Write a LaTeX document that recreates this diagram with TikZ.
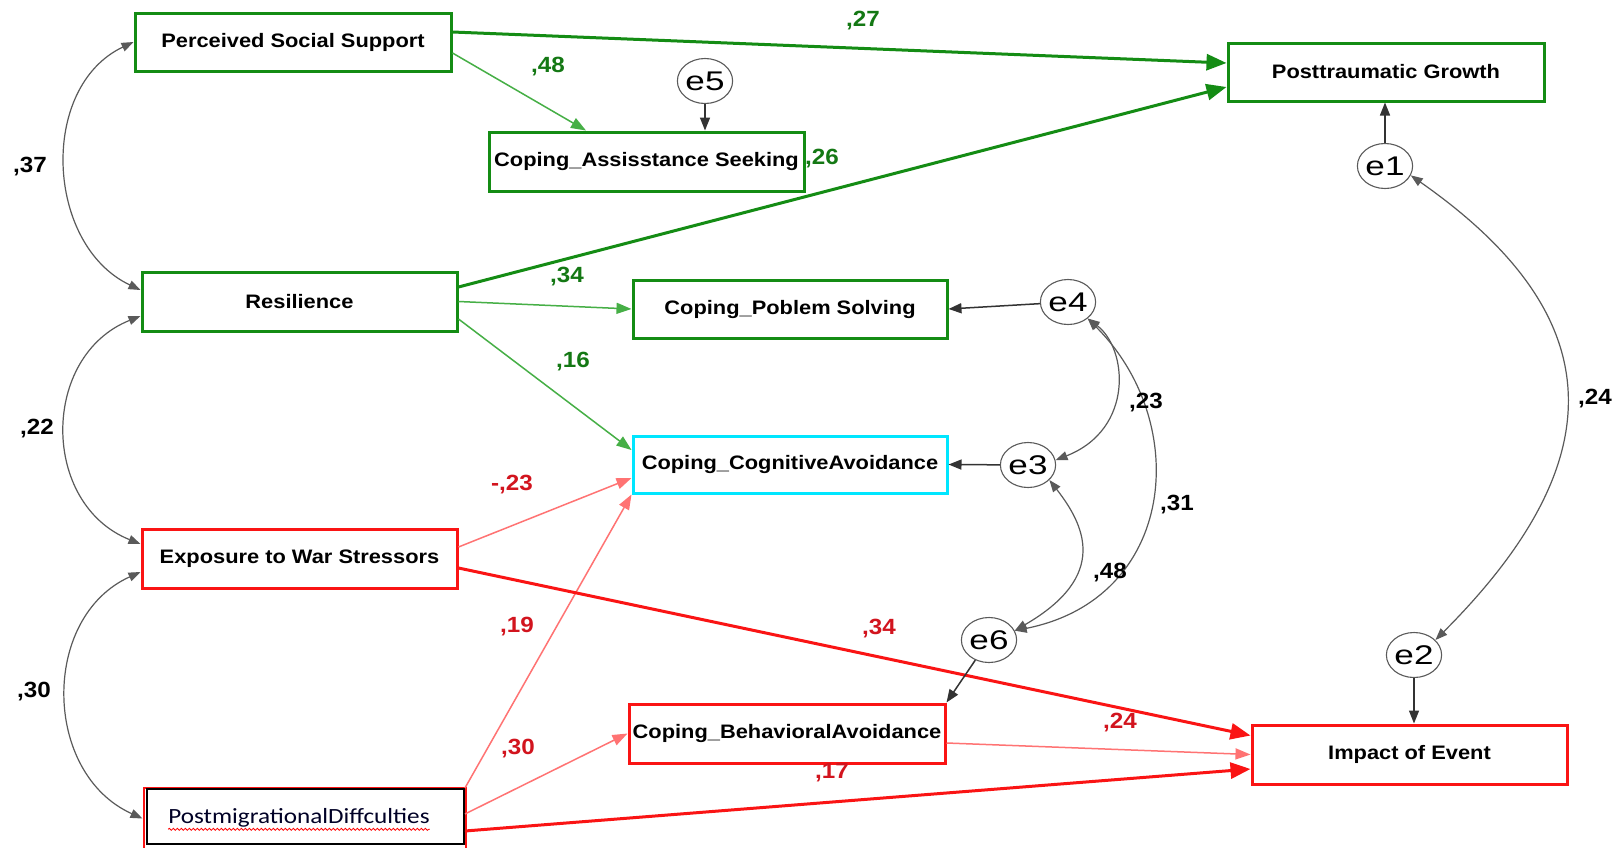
\documentclass[tikz,border=0pt]{standalone}
\usepackage{fontspec}
\usetikzlibrary{arrows.meta,shapes.geometric,decorations.pathmorphing,calc}
\newfontfamily\boxfont[FakeStretch=1.12]{Liberation Sans}
\newfontfamily\numfont[FakeStretch=1.1]{Liberation Sans}
\newfontfamily\efont[FakeStretch=1.3]{Liberation Sans}
\newfontfamily\calfont[FakeStretch=1.16]{Carlito}
\definecolor{pgreen}{RGB}{20,140,20}
\definecolor{pgreenl}{RGB}{70,175,70}
\definecolor{pgreent}{RGB}{20,120,20}
\definecolor{pred}{RGB}{250,20,20}
\definecolor{predl}{RGB}{255,115,115}
\definecolor{predt}{RGB}{210,20,30}
\definecolor{pcyan}{RGB}{0,230,255}
\definecolor{pgray}{RGB}{90,90,90}
\tikzset{
  gbox/.style={rectangle, draw=pgreen, line width=3pt, minimum width=316pt, minimum height=58pt, inner sep=0pt,
    font=\boxfont\bfseries\fontsize{19.5}{20}\selectfont},
  rbox/.style={gbox, draw=pred},
  cbox/.style={gbox, draw=pcyan},
  errc/.style={ellipse, draw=pgray, line width=1.1pt, minimum width=42pt, minimum height=45pt, inner sep=0pt,
    font=\efont\fontsize{27}{27}\selectfont},
  gthick/.style={draw=pgreen, line width=3pt, -{Triangle[length=20pt,width=16pt]}},
  gthin/.style={draw=pgreenl, line width=1.5pt, -{Triangle[length=15pt,width=11pt]}},
  rthick/.style={draw=pred, line width=3pt, -{Triangle[length=20pt,width=16pt]}},
  rthin/.style={draw=predl, line width=1.5pt, -{Triangle[length=15pt,width=11pt]}},
  blk/.style={draw=black!80, line width=1.5pt, -{Triangle[length=13pt,width=10pt]}},
  cov/.style={draw=pgray, line width=1.2pt, {Triangle[length=12pt,width=9pt]}-{Triangle[length=12pt,width=9pt]}},
  num/.style={font=\numfont\bfseries\fontsize{22}{22}\selectfont, inner sep=0pt},
}
\begin{document}
\begin{tikzpicture}[x=1pt,y=-1pt]
\useasboundingbox (0,0) rectangle (1623,847);
\fill[white] (0,0) rectangle (1623,847);

% boxes
\node[gbox] (pss) at (293,42) {Perceived Social Support};
\node[gbox] (ptg) at (1386,72) {Posttraumatic Growth};
\node[gbox, minimum width=315pt, minimum height=59pt] (asst) at (646.5,161.5) {Coping\_Assisstance Seeking};
\node[gbox, minimum width=315pt, minimum height=59pt] (res) at (299.5,301.5) {Resilience};
\node[gbox, minimum width=314pt] (pob) at (790,309) {Coping\_Poblem Solving};
\node[cbox, minimum width=314pt, minimum height=57pt] (cog) at (790,464.5) {Coping\_CognitiveAvoidance};
\node[rbox, minimum width=315pt, minimum height=59pt] (exp) at (299.5,558.5) {Exposure to War Stressors};
\node[rbox, minimum width=316pt, minimum height=59pt] (beh) at (787,733.5) {Coping\_BehavioralAvoidance};
\node[rbox, minimum width=315pt, minimum height=59pt] (imp) at (1409.5,754.5) {Impact of Event};
\node[rectangle, draw=pred, line width=2pt, minimum width=322pt, minimum height=61pt, inner sep=0pt] (pmred) at (304.5,818.5) {};
\node[rectangle, draw=black, fill=white, line width=1.8pt, minimum width=317pt, minimum height=55pt, inner sep=0pt] (pm) at (305.5,816.5) {};
\node[anchor=base, inner sep=0pt, font=\calfont\fontsize{21.7}{22}\selectfont, text=black!85!blue] (pmtext) at (299,823.3) {PostmigrationalDiffculties};
\draw[red, line width=0.8pt, decorate, decoration={snake, amplitude=1pt, segment length=4pt}]
  ([yshift=-6pt]pmtext.base west) -- ([yshift=-6pt]pmtext.base east);

% error terms
\node[errc] (e5) at (705,81) {e5};
\node[errc] (e1) at (1385,166) {e1};
\node[errc] (e4) at (1068,302) {e4};
\node[errc] (e3) at (1028,465) {e3};
\node[errc] (e6) at (989,640) {e6};
\node[errc] (e2) at (1414,655) {e2};

% paths
\draw[gthick] ([yshift=10pt]pss.east) -- ([yshift=9pt]ptg.west);
\draw[gthick] ([yshift=14.5pt]res.east) -- ([yshift=-15pt]ptg.west);
\draw[gthin] ([yshift=-11pt]pss.east) -- ([xshift=-60.5pt]asst.north);
\draw[gthin] (res.east) -- (pob.west);
\draw[gthin] ([yshift=-17.5pt]res.east) -- ([yshift=14.5pt]cog.west);
\draw[rthin] ([yshift=11.5pt]exp.east) -- ([yshift=-13.5pt]cog.west);
\draw[rthin] (pm.north east) -- (cog.south west);
\draw[rthin] ([yshift=2.5pt]pm.east) -- (beh.west);
\draw[rthick] ([yshift=-14.5pt]pm.east) -- ([yshift=-14.5pt]imp.west);
\draw[rthick] ([yshift=-9.5pt]exp.east) -- ([yshift=19pt]imp.west);
\draw[rthin] ([yshift=-9.5pt]beh.east) -- (imp.west);

% error arrows
\draw[blk] (e5) -- (e5 |- asst.north);
\draw[blk] (e1) -- (e1 |- ptg.south);
\draw[blk] (e4) -- (pob.east);
\draw[blk] (e3) -- (cog.east);
\draw[blk] (e6) -- (beh.north east);
\draw[blk] (e2) -- (e2 |- imp.north);

% covariances
\draw[cov] (pss.west) .. controls +(-95,45) and +(-95,-45) .. ([yshift=11.5pt]res.west);
\draw[cov] ([yshift=-14.5pt]res.west) .. controls +(-100,40) and +(-100,-40) .. ([yshift=14.5pt]exp.west);
\draw[cov] ([yshift=-13.5pt]exp.west) .. controls +(-100,45) and +(-100,-45) .. (pmred.west);
\draw[cov] (e4.-40) .. controls +(40,30) and +(79,-31) .. (e3.10);
\draw[cov] (e4.-40) .. controls +(105,105) and +(161,-32) .. (e6.20);
\draw[cov] (e3.-35) .. controls +(35,45) and +(95,-55) .. (e6.20);
\draw[cov] (e1.-20) .. controls +(190,133) and +(190,-190) .. (e2.35);

% coefficient labels
\node[num, text=pgreent] (l27) at (863,21) {,27};
\node[num, text=pgreent] (l48g) at (548,67) {,48};
\node[num, text=pgreent] (l26) at (822,159) {,26};
\node[num] (l37) at (30,167) {,37};
\node[num, text=pgreent] (l34g) at (567,277) {,34};
\node[num, text=pgreent] (l16) at (573,362) {,16};
\node[num] (l22) at (37,429) {,22};
\node[num, text=predt] (l23r) at (512,485) {-,23};
\node[num, text=predt] (l19) at (517,627) {,19};
\node[num] (l30k) at (34,692) {,30};
\node[num, text=predt] (l30r) at (518,749) {,30};
\node[num, text=predt] (l17) at (832,773) {,17};
\node[num, text=predt] (l34r) at (879,629) {,34};
\node[num, text=predt] (l24r) at (1120,723) {,24};
\node[num] (l23k) at (1146,403) {,23};
\node[num] (l31) at (1177,505) {,31};
\node[num] (l48k) at (1110,573) {,48};
\node[num] (l24k) at (1595,399) {,24};
\end{tikzpicture}
\end{document}
